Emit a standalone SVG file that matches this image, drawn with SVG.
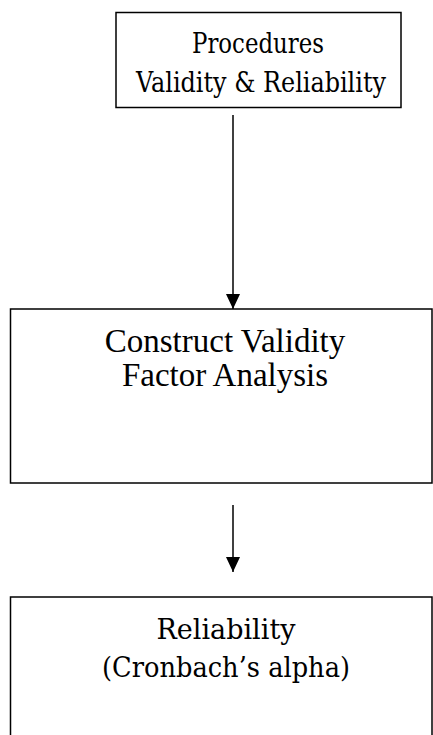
<svg xmlns="http://www.w3.org/2000/svg" width="433" height="735" viewBox="0 0 433 735">
  <style>
    .box { fill: #ffffff; stroke: #000000; stroke-width: 1.5; }
    .cam { font-family: "DejaVu Serif", "Liberation Serif", serif; font-size: 28px; fill: #000000; text-anchor: middle; }
    .tnr { font-family: "Liberation Serif", "Times New Roman", serif; font-size: 33px; fill: #000000; text-anchor: middle; }
    .link { stroke: #000000; stroke-width: 1.5; fill: none; }
  </style>
  <defs>
    <!-- solid triangular head, drawn along +x so it follows the line direction -->
    <marker id="arrow" viewBox="0 0 15 14" refX="15" refY="7" markerWidth="15" markerHeight="14" markerUnits="userSpaceOnUse" orient="auto">
      <path d="M0,0 L15,7 L0,14 Z" fill="#000000"/>
    </marker>
  </defs>
  <rect width="433" height="735" fill="#ffffff"/>

  <g id="procedures">
    <rect class="box" x="116" y="12.5" width="285" height="95"/>
    <text class="cam" x="258" y="53" textLength="132" lengthAdjust="spacingAndGlyphs">Procedures</text>
    <text class="cam" x="261" y="92" textLength="250" lengthAdjust="spacingAndGlyphs">Validity &amp; Reliability</text>
  </g>

  <g id="construct-validity">
    <rect class="box" x="10.5" y="309" width="421.5" height="174"/>
    <text class="tnr" x="225" y="352">Construct Validity</text>
    <text class="tnr" x="225" y="386">Factor Analysis</text>
  </g>

  <g id="reliability">
    <rect class="box" x="10.5" y="597" width="421.5" height="150"/>
    <text class="cam" x="226" y="639" textLength="139" lengthAdjust="spacingAndGlyphs">Reliability</text>
    <text class="cam" x="226" y="677" textLength="248" lengthAdjust="spacingAndGlyphs">(Cronbach’s alpha)</text>
  </g>

  <g id="connectors">
    <line class="link" x1="233" y1="115" x2="233" y2="309" marker-end="url(#arrow)"/>
    <line class="link" x1="233" y1="505" x2="233" y2="572" marker-end="url(#arrow)"/>
  </g>
</svg>
